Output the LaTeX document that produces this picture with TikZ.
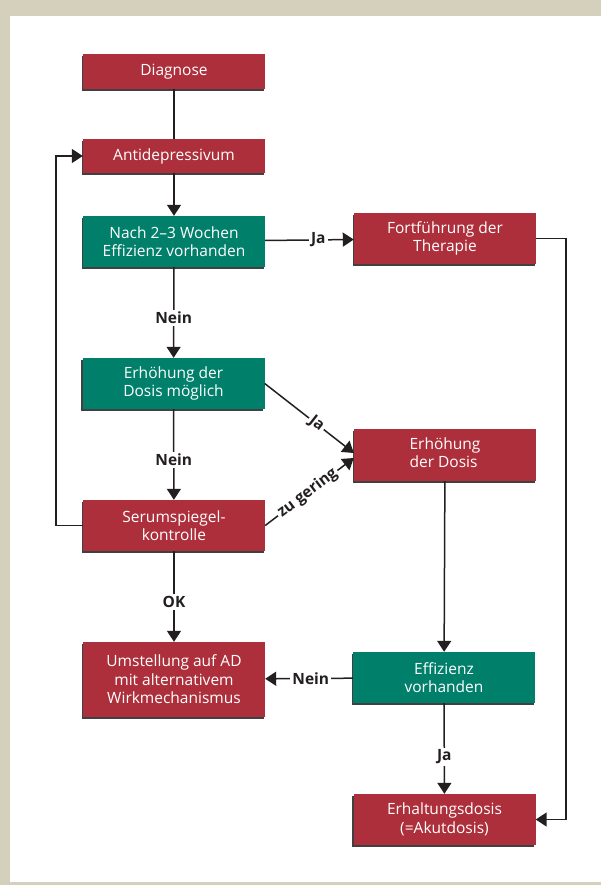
\documentclass[tikz,border=0pt]{standalone}
\usepackage{fontspec}
\setmainfont{Open Sans}
\usetikzlibrary{arrows.meta,calc,shadows}
\definecolor{beige}{HTML}{D4D0BB}
\definecolor{boxred}{HTML}{AD2F3B}
\definecolor{boxgreen}{HTML}{00806A}
\definecolor{lineblack}{HTML}{231F20}
\begin{document}
\begin{tikzpicture}[x=1pt,y=-1pt,
  box/.style={minimum width=182pt, text=white, font=\fontsize{15.5}{18.5}\selectfont,
    align=center, inner sep=0pt,
    general shadow={fill=black!75, shadow xshift=-1.3pt, shadow yshift=-1.6pt}},
  redbox/.style={box, fill=boxred},
  greenbox/.style={box, fill=boxgreen},
  conn/.style={line width=1.5pt, draw=lineblack},
  arr/.style={conn, -{Triangle[length=11pt,width=14pt]}},
  lbl/.style={font=\bfseries\fontsize{15.5}{17}\selectfont, fill=white, inner sep=2pt, text=lineblack}]
\useasboundingbox (0,0) rectangle (601,885);
\fill[beige] (0,0) rectangle (601,885);
\fill[white] (10,16) rectangle (601,882);

\node[redbox, minimum height=35pt] (diag) at (174,71.5) {Diagnose};
\node[redbox, minimum height=34pt] (anti) at (174,156) {Antidepressivum};
\node[greenbox, minimum height=51pt] (nach) at (174,241.5) {Nach 2–3 Wochen\\Effizienz vorhanden};
\node[redbox, minimum height=51pt] (fort) at (445,238.5) {Fortführung der\\Therapie};
\node[greenbox, minimum height=51pt] (erhm) at (173.5,383.5) {Erhöhung der\\Dosis möglich};
\node[redbox, minimum height=52pt] (erhd) at (445,455) {\begin{tabular}{@{}l@{}}Erhöhung\\der Dosis\end{tabular}};
\node[redbox, minimum height=51pt] (serum) at (174,525.5) {Serumspiegel-\\kontrolle};
\node[redbox, minimum height=75pt] (umst) at (174,679.5) {Umstellung auf AD\\mit alternativem\\Wirkmechanismus};
\node[greenbox, minimum height=51pt] (eff) at (444,677.5) {Effizienz\\vorhanden};
\node[redbox, minimum height=51pt] (erh) at (444.5,819.5) {Erhaltungsdosis\\(=Akutdosis)};

\coordinate (jaend) at ($(erhd.west)+(0,-2)$);
\coordinate (zgend) at ($(erhd.west)+(0,3)$);

\draw[conn] (diag) -- (anti);
\draw[arr] (anti) -- (nach);
\draw[arr] (nach) -- node[lbl, pos=0.6]{Ja} (fort);
\draw[arr] (nach) -- node[lbl, pos=0.56]{Nein} (erhm);
\draw[arr] (erhm) -- node[lbl, pos=0.56]{Nein} (serum);
\draw[arr] (serum) -- node[lbl, pos=0.56]{OK} (umst);
\draw[arr] (eff) -- node[lbl, pos=0.59]{Ja} (erh);
\draw[arr] (eff) -- node[lbl, pos=0.48]{Nein} (umst);
\draw[arr] (erhd) -- (eff);
\draw[arr] (fort.east) -- ++(30,0) |- (erh.east);
\draw[arr] (serum.west) -- ++(-27,0) |- (anti.west);
\draw[arr] (erhm.east) -- node[lbl, sloped, pos=0.58]{Ja} (jaend);
\draw[arr] (serum.east) -- node[lbl, sloped, pos=0.48]{zu gering} (zgend);
\end{tikzpicture}
\end{document}
